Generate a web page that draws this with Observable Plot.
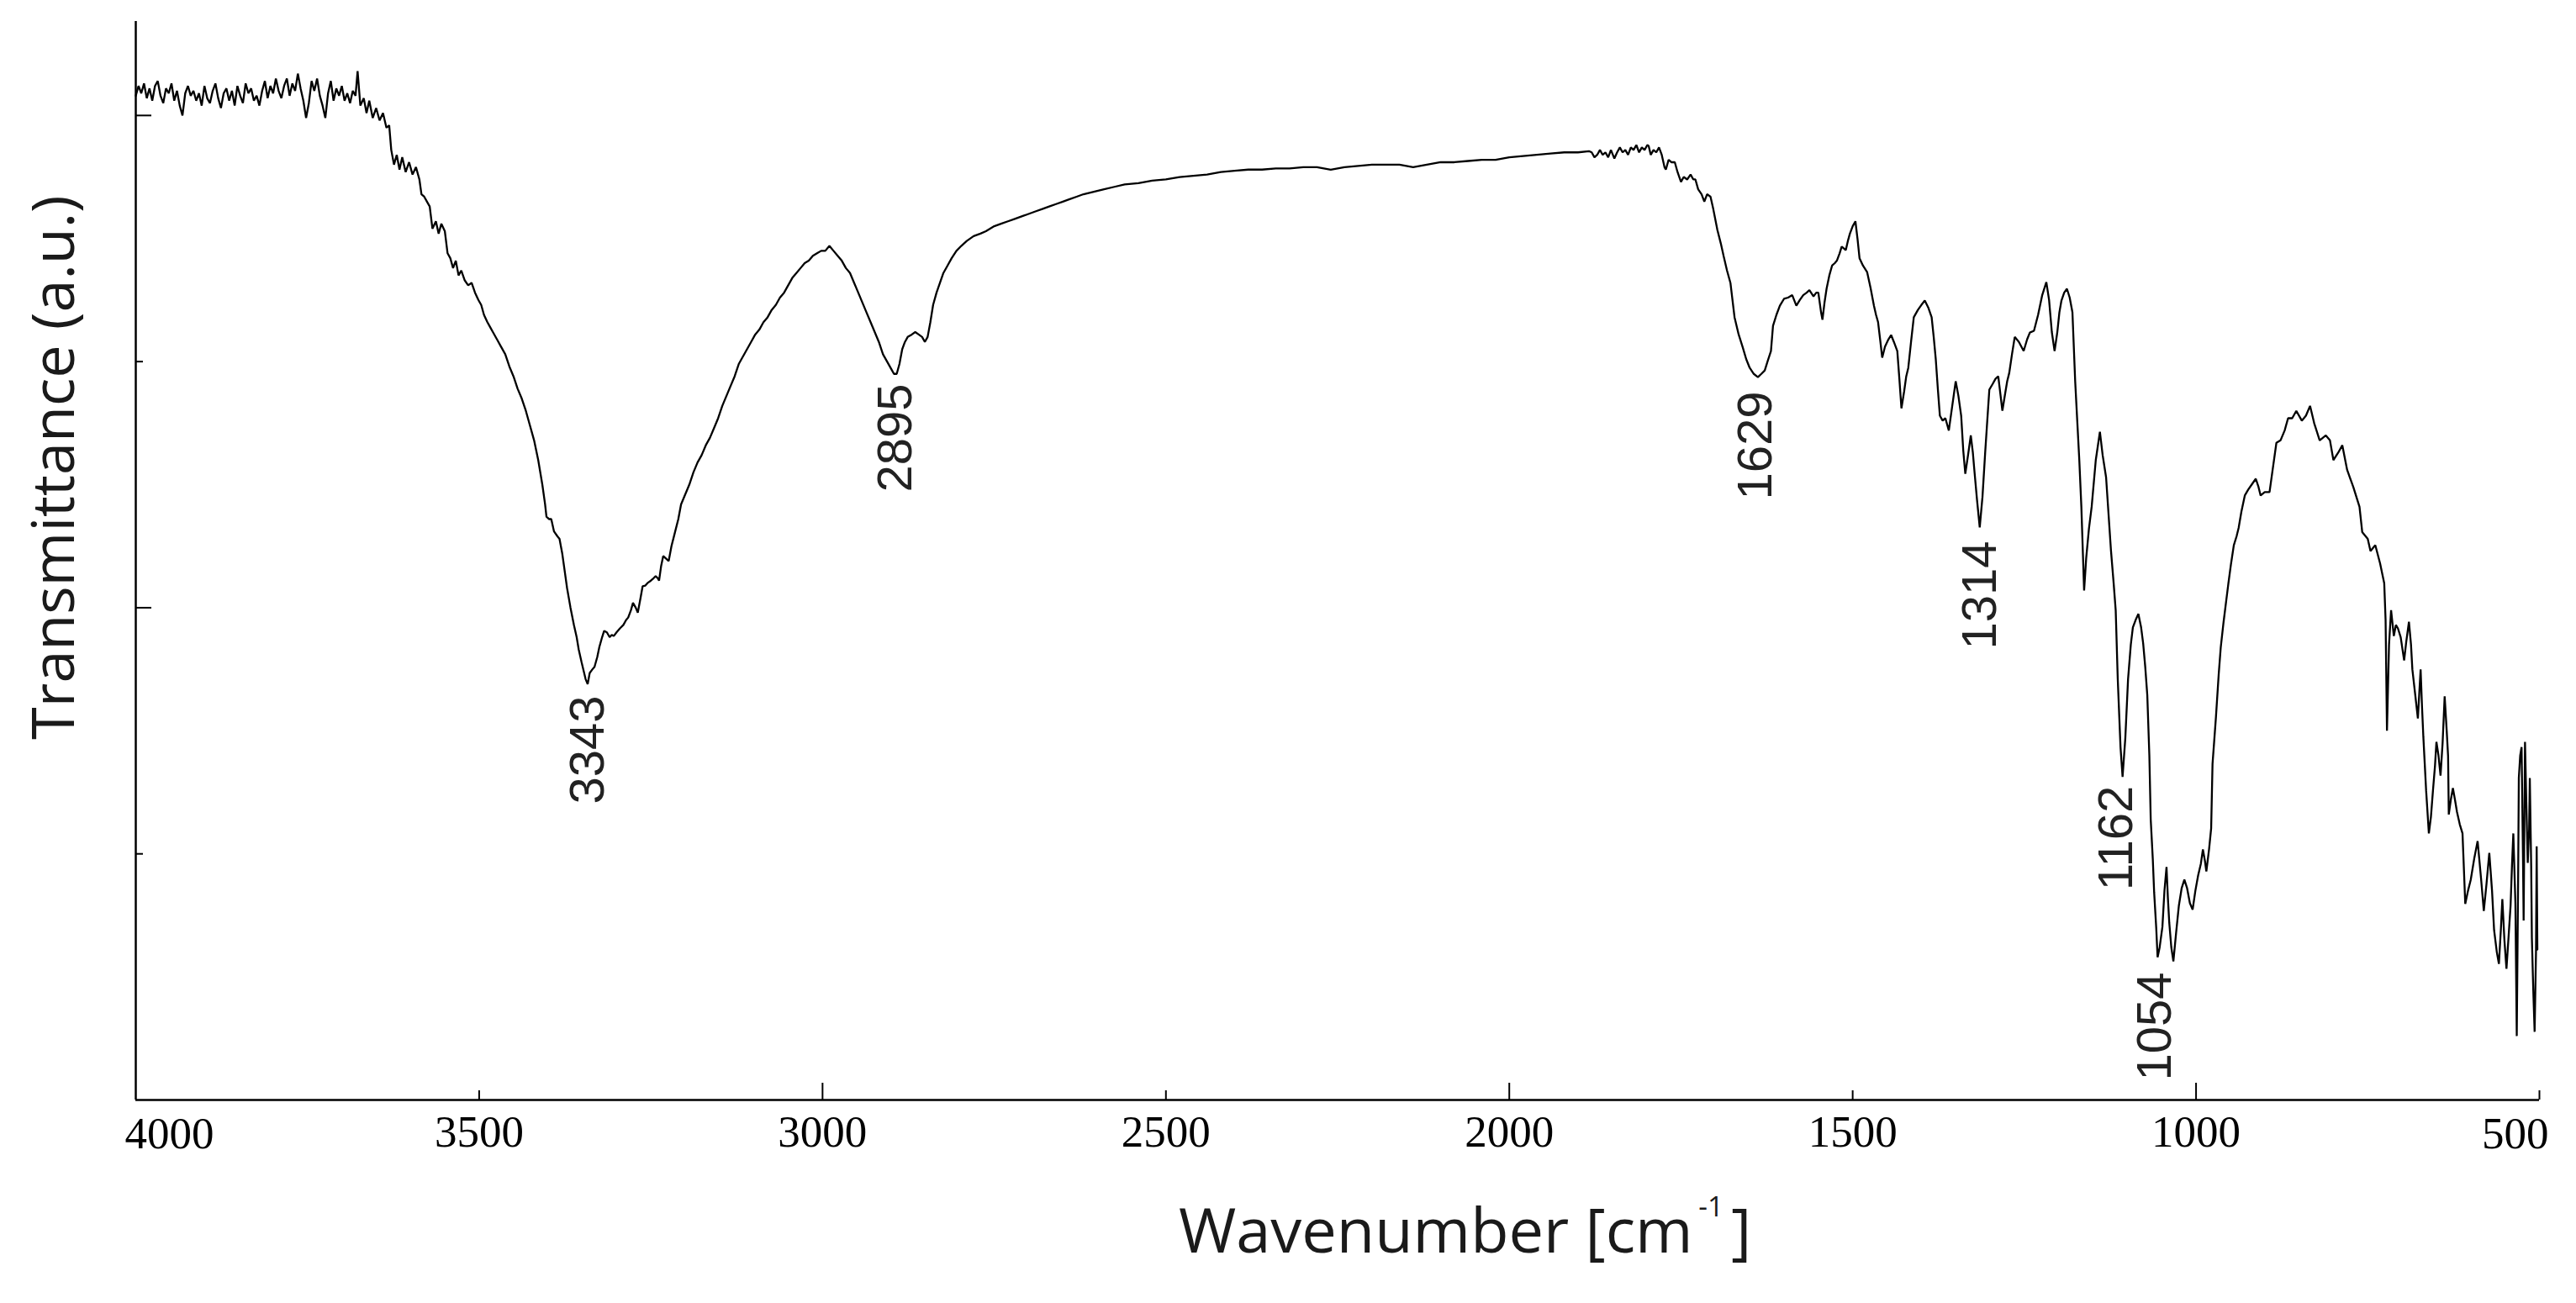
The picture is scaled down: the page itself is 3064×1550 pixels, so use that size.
<!DOCTYPE html>
<html>
<head>
<meta charset="utf-8">
<script src="https://cdn.jsdelivr.net/npm/d3@7"></script>
<script src="https://cdn.jsdelivr.net/npm/@observablehq/plot@0.6"></script>
<style>
  html, body { margin: 0; padding: 0; background: #fff; }
  #chart svg { display: block; }
</style>
</head>
<body>
<div id="chart"></div>
<script>
// FTIR spectrum: [wavenumber (cm-1), transmittance (a.u.)]
const spectrum = [
  [4000,4.08],[3996,4.12],[3992,4.09],[3988,4.13],[3984,4.07],[3980,4.11],[3976,4.06],[3972,4.12],
  [3968,4.14],[3964,4.08],[3960,4.05],[3956,4.11],[3952,4.09],[3948,4.13],[3944,4.06],[3940,4.10],
  [3936,4.04],[3932,4.00],[3928,4.09],[3924,4.12],[3920,4.08],[3916,4.10],[3912,4.06],[3908,4.09],
  [3904,4.04],[3900,4.12],[3896,4.07],[3892,4.05],[3888,4.10],[3884,4.13],[3880,4.07],[3876,4.03],
  [3872,4.09],[3868,4.11],[3864,4.06],[3860,4.10],[3856,4.04],[3852,4.12],[3848,4.08],[3844,4.05],
  [3840,4.13],[3836,4.09],[3832,4.11],[3828,4.06],[3824,4.08],[3820,4.04],[3816,4.10],[3812,4.14],
  [3808,4.07],[3804,4.12],[3800,4.09],[3796,4.15],[3792,4.10],[3788,4.07],[3784,4.12],[3780,4.15],
  [3776,4.08],[3772,4.13],[3768,4.10],[3764,4.17],[3760,4.11],[3756,4.06],[3752,3.99],[3748,4.05],
  [3744,4.14],[3740,4.10],[3736,4.15],[3732,4.08],[3728,4.04],[3724,3.99],[3720,4.09],[3716,4.14],
  [3712,4.06],[3708,4.11],[3704,4.08],[3700,4.12],[3696,4.06],[3692,4.09],[3688,4.05],[3684,4.10],
  [3680,4.08],[3677,4.18],[3673,4.04],[3668,4.07],[3664,4.01],[3660,4.06],[3655,3.99],[3650,4.03],
  [3645,3.98],[3640,4.01],[3635,3.95],[3631,3.96],[3628,3.86],[3624,3.80],[3620,3.84],[3616,3.78],
  [3612,3.83],[3607,3.77],[3602,3.81],[3597,3.76],[3592,3.79],[3587,3.74],[3584,3.68],[3580,3.67],
  [3576,3.65],[3572,3.63],[3568,3.54],[3563,3.57],[3559,3.52],[3555,3.56],[3550,3.53],[3546,3.44],
  [3542,3.42],[3538,3.38],[3534,3.41],[3530,3.35],[3526,3.37],[3521,3.33],[3516,3.31],[3511,3.32],
  [3506,3.28],[3501,3.25],[3497,3.23],[3493,3.19],[3488,3.16],[3484,3.14],[3480,3.12],[3474,3.09],
  [3468,3.06],[3462,3.03],[3456,2.98],[3450,2.94],[3444,2.89],[3438,2.85],[3432,2.80],[3426,2.74],
  [3420,2.68],[3414,2.60],[3408,2.50],[3404,2.42],[3402,2.37],[3398,2.36],[3395,2.36],[3391,2.31],
  [3386,2.29],[3383,2.28],[3379,2.22],[3375,2.14],[3372,2.08],[3367,2.00],[3362,1.93],[3358,1.88],
  [3355,1.83],[3351,1.78],[3348,1.745],[3345,1.71],[3342,1.69],[3339,1.735],[3335,1.75],[3332,1.76],
  [3328,1.80],[3325,1.84],[3321,1.88],[3318,1.906],[3314,1.90],[3310,1.88],[3307,1.89],[3304,1.885],
  [3300,1.90],[3295,1.916],[3290,1.93],[3286,1.95],[3283,1.96],[3279,1.99],[3276,2.02],[3272,2.00],
  [3269,1.98],[3265,2.04],[3262,2.087],[3258,2.09],[3255,2.10],[3250,2.11],[3246,2.12],[3243,2.128],
  [3240,2.12],[3238,2.11],[3235,2.17],[3232,2.21],[3228,2.20],[3224,2.19],[3220,2.25],[3215,2.305],
  [3210,2.36],[3206,2.42],[3200,2.46],[3194,2.50],[3188,2.55],[3182,2.59],[3176,2.62],[3170,2.66],
  [3164,2.69],[3158,2.73],[3152,2.77],[3146,2.82],[3140,2.86],[3134,2.90],[3128,2.94],[3122,2.99],
  [3116,3.02],[3110,3.05],[3104,3.08],[3098,3.11],[3092,3.13],[3086,3.16],[3080,3.18],[3074,3.21],
  [3068,3.23],[3062,3.26],[3056,3.28],[3050,3.31],[3044,3.34],[3038,3.36],[3032,3.38],[3026,3.40],
  [3020,3.41],[3014,3.43],[3008,3.44],[3002,3.45],[2996,3.45],[2990,3.47],[2984,3.45],[2978,3.43],
  [2972,3.41],[2966,3.38],[2960,3.36],[2954,3.32],[2948,3.28],[2942,3.24],[2936,3.20],[2930,3.16],
  [2924,3.12],[2918,3.08],[2912,3.03],[2906,3.00],[2900,2.97],[2896,2.95],[2892,2.95],[2888,2.99],
  [2884,3.05],[2880,3.08],[2876,3.10],[2870,3.11],[2865,3.12],[2860,3.11],[2855,3.10],[2851,3.08],
  [2847,3.10],[2843,3.16],[2839,3.23],[2834,3.28],[2829,3.32],[2824,3.36],[2818,3.39],[2812,3.42],
  [2805,3.45],[2798,3.47],[2790,3.49],[2780,3.51],[2770,3.52],[2762,3.53],[2750,3.55],[2740,3.56],
  [2730,3.57],[2720,3.58],[2710,3.59],[2700,3.60],[2690,3.61],[2680,3.62],[2670,3.63],[2660,3.64],
  [2650,3.65],[2640,3.66],[2630,3.67],[2620,3.68],[2605,3.69],[2590,3.70],[2575,3.71],[2560,3.72],
  [2540,3.725],[2520,3.735],[2500,3.74],[2480,3.75],[2460,3.755],[2440,3.76],[2420,3.77],[2400,3.775],
  [2380,3.78],[2360,3.78],[2340,3.785],[2320,3.785],[2300,3.79],[2280,3.79],[2260,3.78],[2240,3.79],
  [2220,3.795],[2200,3.80],[2180,3.80],[2160,3.80],[2140,3.79],[2120,3.80],[2100,3.81],[2080,3.81],
  [2060,3.815],[2040,3.82],[2020,3.82],[2000,3.83],[1980,3.835],[1960,3.84],[1940,3.845],[1920,3.85],
  [1900,3.85],[1884,3.855],[1880,3.85],[1876,3.83],[1872,3.84],[1868,3.86],[1864,3.84],[1860,3.85],
  [1856,3.83],[1852,3.86],[1847,3.825],[1843,3.85],[1839,3.87],[1835,3.85],[1831,3.86],[1827,3.84],
  [1823,3.87],[1819,3.86],[1815,3.88],[1811,3.85],[1807,3.87],[1803,3.86],[1799,3.88],[1797,3.876],
  [1794,3.84],[1790,3.86],[1786,3.85],[1782,3.87],[1778,3.84],[1774,3.79],[1772,3.78],[1768,3.82],
  [1764,3.81],[1759,3.81],[1755,3.77],[1750,3.73],[1746,3.75],[1741,3.74],[1736,3.76],[1732,3.74],
  [1729,3.74],[1725,3.70],[1720,3.68],[1716,3.65],[1712,3.68],[1707,3.67],[1703,3.62],[1697,3.535],
  [1692,3.48],[1688,3.43],[1683,3.37],[1678,3.32],[1672,3.18],[1666,3.11],[1660,3.057],[1655,3.01],
  [1650,2.975],[1644,2.95],[1638,2.937],[1633,2.95],[1628,2.964],[1624,3.00],[1619,3.043],[1616,3.145],
  [1611,3.19],[1606,3.227],[1600,3.255],[1594,3.26],[1588,3.27],[1582,3.227],[1577,3.25],[1572,3.27],
  [1567,3.28],[1563,3.29],[1557,3.265],[1553,3.28],[1550,3.28],[1546,3.20],[1544,3.17],[1541,3.24],
  [1538,3.296],[1534,3.35],[1530,3.39],[1526,3.40],[1523,3.41],[1519,3.44],[1516,3.467],[1513,3.46],
  [1510,3.453],[1507,3.49],[1504,3.52],[1500,3.55],[1496,3.57],[1493,3.50],[1490,3.42],[1485,3.39],
  [1479,3.364],[1474,3.30],[1469,3.227],[1466,3.19],[1463,3.16],[1460,3.09],[1457,3.016],[1453,3.06],
  [1448,3.09],[1444,3.108],[1440,3.08],[1435,3.043],[1432,2.93],[1429,2.81],[1425,2.88],[1422,2.94],
  [1419,2.975],[1415,3.08],[1411,3.18],[1405,3.21],[1400,3.23],[1395,3.248],[1390,3.22],[1385,3.18],
  [1382,3.10],[1379,3.01],[1376,2.89],[1373,2.78],[1369,2.76],[1365,2.77],[1362,2.74],[1360,2.72],
  [1356,2.80],[1353,2.86],[1350,2.92],[1346,2.86],[1342,2.78],[1339,2.64],[1336,2.544],[1332,2.62],
  [1328,2.70],[1325,2.63],[1323,2.565],[1319,2.44],[1315,2.326],[1311,2.45],[1307,2.633],[1304,2.76],
  [1301,2.886],[1296,2.91],[1292,2.93],[1288,2.94],[1285,2.87],[1282,2.80],[1278,2.87],[1275,2.92],
  [1272,2.954],[1268,3.03],[1264,3.10],[1258,3.08],[1251,3.043],[1246,3.09],[1242,3.118],[1236,3.125],
  [1230,3.19],[1224,3.27],[1218,3.323],[1214,3.25],[1210,3.12],[1206,3.043],[1202,3.12],[1199,3.20],
  [1196,3.248],[1192,3.28],[1188,3.296],[1184,3.26],[1180,3.20],[1176,2.92],[1173,2.76],[1170,2.60],
  [1167,2.41],[1163,2.07],[1160,2.20],[1156,2.32],[1152,2.41],[1146,2.60],[1140,2.715],[1136,2.62],
  [1131,2.53],[1124,2.237],[1120,2.10],[1117,1.99],[1114,1.71],[1110,1.434],[1107,1.313],[1103,1.47],
  [1099,1.71],[1095,1.85],[1092,1.92],[1088,1.95],[1084,1.975],[1080,1.92],[1077,1.855],[1074,1.76],
  [1071,1.645],[1068,1.40],[1066,1.14],[1063,0.98],[1061,0.843],[1058,0.70],[1056,0.58],[1053,0.62],
  [1049,0.703],[1046,0.85],[1043,0.947],[1041,0.82],[1039,0.72],[1036,0.62],[1033,0.563],[1029,0.68],
  [1025,0.79],[1021,0.86],[1017,0.895],[1013,0.86],[1009,0.80],[1005,0.773],[1001,0.85],[997,0.912],
  [993,0.96],[990,1.018],[987,0.97],[985,0.929],[981,1.02],[978,1.104],[976,1.366],[973,1.48],
  [971,1.557],[967,1.73],[964,1.84],[960,1.94],[956,2.03],[953,2.097],[949,2.18],[945,2.254],
  [941,2.29],[938,2.324],[934,2.39],[929,2.456],[924,2.48],[919,2.50],[913,2.524],[909,2.49],
  [906,2.456],[900,2.47],[893,2.47],[889,2.55],[883,2.67],[877,2.68],[871,2.72],[866,2.77],
  [860,2.77],[854,2.80],[846,2.76],[840,2.78],[834,2.82],[828,2.75],[820,2.68],[811,2.70],
  [805,2.68],[800,2.60],[793,2.63],[787,2.66],[780,2.56],[771,2.49],[762,2.41],[758,2.307],
  [750,2.28],[746,2.23],[739,2.254],[732,2.18],[726,2.10],[724,1.95],[722,1.50],[719,1.85],
  [716,1.99],[712,1.885],[709,1.93],[706,1.916],[702,1.88],[697,1.786],[694,1.86],[690,1.943],
  [687,1.85],[685,1.749],[681,1.65],[677,1.55],[675,1.65],[673,1.749],[671,1.60],[669,1.474],
  [665,1.258],[661,1.083],[658,1.15],[655,1.258],[652,1.36],[650,1.455],[647,1.40],[644,1.318],
  [641,1.45],[638,1.64],[635,1.50],[633,1.397],[632,1.16],[629,1.22],[626,1.267],[623,1.22],
  [620,1.17],[616,1.12],[612,1.083],[608,0.797],[604,0.85],[600,0.895],[595,0.98],[590,1.052],
  [585,0.90],[581,0.768],[577,0.88],[573,1.004],[569,0.85],[566,0.69],[562,0.60],[559,0.553],
  [556,0.70],[554,0.816],[551,0.65],[548,0.533],[545,0.66],[542,0.79],[540,0.95],[538,1.083],
  [535,0.80],[533,0.26],[531,0.90],[530,1.308],[528,1.40],[526,1.434],[524,1.00],[523,0.729],
  [521,1.455],[519,1.20],[517,0.963],[515,1.10],[514,1.308],[512,0.95],[511,0.659],[509,0.45],
  [507,0.277],[505,0.60],[504,1.031],[503,0.611]
];

// Axis ticks (wavenumber) and tick labels
const xMajorTicks = [3000, 2000, 1000];
const xMinorTicks = [3500, 2500, 1500, 500];
const xTickLabels = [4000, 3500, 3000, 2500, 2000, 1500, 1000, 500];
// Unlabelled y ticks (arbitrary units)
const yMajorTicks = [2, 4];
const yMinorTicks = [1, 3];

// Peak annotations: label, wavenumber where drawn, transmittance at the top of the label
const peakLabels = ["3343", "2895", "1629", "1314", "1162", "1054"];
const peakWavenumbers = [3342, 2894, 1641, 1314, 1116, 1059];
const peakLabelTops = [1.643, 2.91, 2.879, 2.271, 1.277, 0.519];

const xTitle = "Wavenumber [cm-1]";
const yTitle = "Transmittance (a.u.)";

const peaks = peakLabels.map((label, i) => ({label, wn: peakWavenumbers[i], t: peakLabelTops[i]}));
const firstLabel = xTickLabels[0];
const lastLabel = xTickLabels[xTickLabels.length - 1];
const innerLabels = xTickLabels.slice(1, -1);

const tickFont = {fontFamily: "Liberation Serif, Times New Roman, serif", fontSize: 53, fill: "#000"};

const chart = Plot.plot({
  width: 3064,
  height: 1550,
  marginLeft: 161,
  marginRight: 44,
  marginTop: 25,
  marginBottom: 242,
  x: {domain: [4000, 500], axis: null},
  y: {domain: [0, 4.382], axis: null},
  style: {background: "#fff", overflow: "visible"},
  marks: [
    // axis lines
    Plot.ruleY([0], {stroke: "#000", strokeWidth: 2.5}),
    Plot.ruleX([4000], {stroke: "#000", strokeWidth: 2.5}),
    // inward ticks
    Plot.axisX({ticks: xMajorTicks, tickSize: -20, fill: "none", label: null, stroke: "#000", strokeWidth: 2}),
    Plot.axisX({ticks: xMinorTicks, tickSize: -11, fill: "none", label: null, stroke: "#000", strokeWidth: 2}),
    Plot.axisY({ticks: yMajorTicks, tickSize: -19, fill: "none", label: null, stroke: "#000", strokeWidth: 2}),
    Plot.axisY({ticks: yMinorTicks, tickSize: -9, fill: "none", label: null, stroke: "#000", strokeWidth: 2}),
    // tick labels
    Plot.text(innerLabels, {x: d => d, text: d => String(d), frameAnchor: "bottom", dy: 39, lineAnchor: "middle", ...tickFont}),
    Plot.text([firstLabel], {x: d => d, text: d => String(d), frameAnchor: "bottom", dy: 41, dx: -13, textAnchor: "start", lineAnchor: "middle", ...tickFont}),
    Plot.text([lastLabel], {x: d => d, text: d => String(d), frameAnchor: "bottom", dy: 41, dx: 11, textAnchor: "end", lineAnchor: "middle", ...tickFont}),
    // spectrum
    Plot.line(spectrum, {x: d => d[0], y: d => d[1], stroke: "#000", strokeWidth: 2.3, strokeLinejoin: "miter"}),
    // peak labels
    Plot.text(peaks, {x: "wn", y: "t", text: "label", rotate: -90, textAnchor: "end", lineAnchor: "middle",
      fontFamily: "Liberation Sans, Arial, sans-serif", fontSize: 58, fill: "#222"}),
    // axis titles
    Plot.text([xTitle], {text: d => d, frameAnchor: "bottom", dx: 151.5, dy: 158, textAnchor: "middle", lineAnchor: "middle",
      fontFamily: "Open Sans, sans-serif", fontSize: 74, fill: "#1a1a1a"}),
    Plot.text([yTitle], {text: d => d, frameAnchor: "left", dx: -96, dy: -111, rotate: -90, textAnchor: "middle", lineAnchor: "middle",
      fontFamily: "Open Sans, sans-serif", fontSize: 70, fill: "#1a1a1a"})
  ]
});

document.getElementById("chart").appendChild(chart);

// Superscript "-1" in the x-axis title
d3.select(chart).selectAll("text").filter(function() { return this.textContent === xTitle; }).each(function() {
  const t = d3.select(this);
  t.text(null);
  t.append("tspan").text("Wavenumber [cm");
  t.append("tspan").text("-1").attr("font-size", "0.45em").attr("dy", "-1.3em").attr("dx", "0.2em");
  t.append("tspan").text("]").attr("dy", "0.585em").attr("dx", "0.12em");
});
</script>
</body>
</html>
